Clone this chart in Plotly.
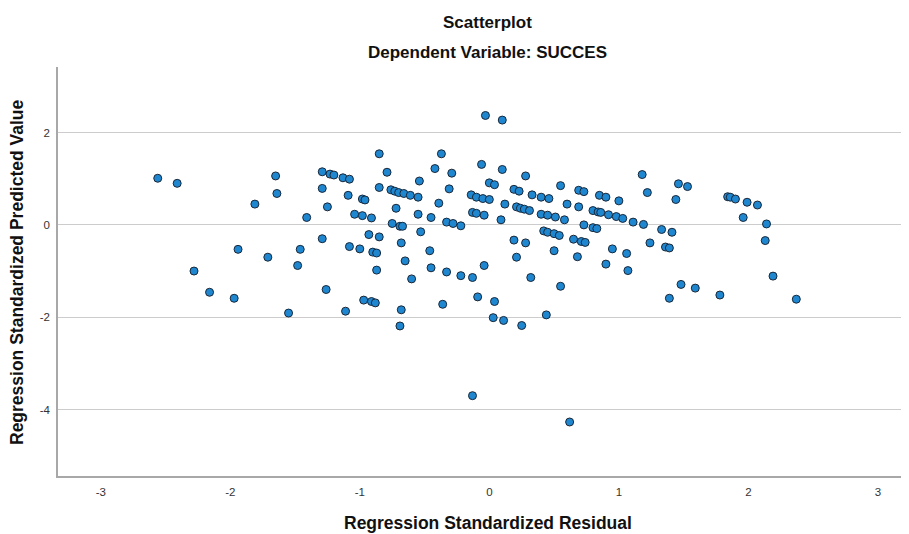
import plotly.graph_objects as go

# Regression Standardized Residual (x) and Regression Standardized Predicted Value (y)
residual = [
    -2.56, -2.41, -1.65, -1.64, -1.81, -1.41, -1.29, -1.23, -1.20, -1.13,
    -1.08, -1.29, -1.09, -1.25, -1.29, -1.08, -1.94, -1.71, -1.46, -1.48,
    -2.28, -2.16, -1.97, -1.55, -1.26, -1.11,
    -0.03, 0.10, -0.85, -0.79, -0.85, -0.76, -0.73, -0.70, -0.66, -0.61,
    -0.55, -0.54, -0.72, -0.98, -0.96, -1.04, -0.98, -0.91, -0.75, -0.69,
    -0.67, -0.55, -0.53, -0.45, -0.39, -0.42, -0.37, -0.29, -0.31, -0.33,
    -0.28, -0.22, -0.93, -0.85, -1.00, -0.90, -0.87, -0.68, -0.65, -0.87,
    -0.46, -0.45, -0.33, -0.22, -0.13, -0.60, -0.06, 0.00, 0.04, 0.10,
    -0.14, -0.10, -0.05, 0.00, 0.12, -0.13, -0.10, -0.04, 0.09, 0.19,
    0.23, 0.28, 0.33, 0.21, 0.24, 0.27, 0.31, 0.19, 0.28, 0.21,
    -0.04, 0.32, 0.40, 0.46, 0.55, 0.40, 0.45, 0.51, 0.58, 0.60,
    0.69, 0.73, 0.69, 0.42, 0.45, 0.50, 0.54, 0.50, 0.65, 0.71,
    0.74, 0.73, 0.80, 0.83, 0.68, 0.80, 0.84, 0.86, 0.92, 0.98,
    1.03, 0.85, 0.90, 1.00, 0.95, 0.90, 1.06, 1.07,
    1.18, 1.22, 1.11, 1.19, 1.33, 1.41, 1.24, 1.36, 1.39, 1.46,
    1.53, 1.44, 1.84, 1.86, 1.90, 1.99, 2.07, 1.96, 2.14, 2.13,
    2.19, 1.48, 1.59, 1.39, 1.78, 2.37,
    0.55, -0.97, -0.91, -0.88, -0.68, -0.69, -0.36, -0.09, 0.04, 0.03,
    0.11, 0.25, 0.44, -0.13, 0.62,
]
predicted = [
    1.01, 0.90, 1.06, 0.68, 0.45, 0.16, 1.15, 1.10, 1.08, 1.02,
    0.99, 0.79, 0.64, 0.39, -0.30, -0.47, -0.53, -0.70, -0.53, -0.88,
    -1.00, -1.46, -1.59, -1.91, -1.40, -1.87,
    2.37, 2.27, 1.54, 1.14, 0.81, 0.76, 0.73, 0.70, 0.68, 0.64,
    0.60, 0.95, 0.36, 0.56, 0.54, 0.23, 0.20, 0.15, 0.03, -0.03,
    -0.03, 0.23, -0.15, 0.16, 0.47, 1.22, 1.54, 1.12, 0.78, 0.06,
    0.03, -0.02, -0.21, -0.26, -0.52, -0.59, -0.61, -0.39, -0.78, -0.98,
    -0.56, -0.93, -1.02, -1.10, -1.14, -1.17, 1.31, 0.91, 0.87, 1.20,
    0.65, 0.60, 0.57, 0.55, 0.45, 0.27, 0.25, 0.21, 0.11, 0.77,
    0.73, 1.06, 0.65, 0.39, 0.36, 0.34, 0.31, -0.33, -0.39, -0.70,
    -0.88, -1.14, 0.60, 0.57, 0.85, 0.23, 0.21, 0.17, 0.11, 0.45,
    0.75, 0.72, 0.39, -0.13, -0.16, -0.19, -0.23, -0.56, -0.31, -0.36,
    -0.38, 0.00, -0.06, -0.08, -0.69, 0.31, 0.28, 0.27, 0.22, 0.18,
    0.14, 0.64, 0.60, 0.52, -0.52, -0.85, -0.62, -0.99,
    1.09, 0.70, 0.06, 0.01, -0.10, -0.16, -0.39, -0.48, -0.50, 0.89,
    0.83, 0.55, 0.61, 0.60, 0.56, 0.49, 0.43, 0.16, 0.02, -0.34,
    -1.11, -1.29, -1.37, -1.59, -1.52, -1.61,
    -1.33, -1.63, -1.66, -1.69, -1.84, -2.19, -1.72, -1.56, -1.66, -2.01,
    -2.07, -2.18, -1.95, -3.70, -4.27,
]

x_ticks = [-3, -2, -1, 0, 1, 2, 3]
y_ticks = [2, 0, -2, -4]

title_text = "Scatterplot"
subtitle_text = "Dependent Variable: SUCCES"
x_title = "Regression Standardized Residual"
y_title = "Regression Standardized Predicted Value"

# figure size compensates for the 8px default page margin
W, H = 901, 526
ML, MR, MT, MB = 50, 0, 59, 58
plot_w = W - ML - MR
plot_h = H - MT - MB

def px_x(xfig):
    return (xfig - ML) / plot_w

def px_y(yfig):
    return 1 - (yfig - MT) / plot_h

fig = go.Figure(go.Scatter(
    x=residual, y=predicted, mode="markers",
    marker=dict(size=8, color="#1f86d0", line=dict(color="#18283a", width=1)),
    hoverinfo="x+y",
))

title_font = dict(size=17, color="#111", family="Liberation Sans, Arial, sans-serif")
axis_title_font = dict(size=17.5, color="#111", family="Liberation Sans, Arial, sans-serif")

fig.update_layout(
    width=W, height=H,
    margin=dict(l=ML, r=MR, t=MT, b=MB),
    paper_bgcolor="white", plot_bgcolor="white",
    font=dict(family="Liberation Sans, Arial, sans-serif", color="#222"),
    showlegend=False,
    xaxis=dict(
        range=[-3.33, 3.24], tickvals=x_ticks, ticktext=[str(v) for v in x_ticks],
        showgrid=False, zeroline=False, showline=True, linecolor="#a8a8a8", linewidth=1.5,
        ticks="", tickfont=dict(size=11.5, color="#333"), ticklabelstandoff=4,
    ),
    yaxis=dict(
        range=[-5.44, 3.42], tickvals=y_ticks, ticktext=[str(v) for v in y_ticks],
        showgrid=True, gridcolor="#cccccc", gridwidth=1, zeroline=False,
        showline=True, linecolor="#a8a8a8", linewidth=1.5,
        ticks="", tickfont=dict(size=11.5, color="#333"), ticklabelstandoff=4,
    ),
    annotations=[
        dict(text="<b>%s</b>" % title_text, x=px_x(480), y=px_y(14), xref="paper", yref="paper",
             xanchor="center", yanchor="middle", showarrow=False, font=title_font),
        dict(text="<b>%s</b>" % subtitle_text, x=px_x(480), y=px_y(44), xref="paper", yref="paper",
             xanchor="center", yanchor="middle", showarrow=False, font=title_font),
        dict(text="<b>%s</b>" % x_title, x=px_x(480), y=px_y(515), xref="paper", yref="paper",
             xanchor="center", yanchor="middle", showarrow=False, font=axis_title_font),
        dict(text="<b>%s</b>" % y_title, x=px_x(9), y=px_y(264), xref="paper", yref="paper",
             xanchor="center", yanchor="middle", textangle=-90, showarrow=False, font=axis_title_font),
    ],
)

fig.write_html("out.html")
